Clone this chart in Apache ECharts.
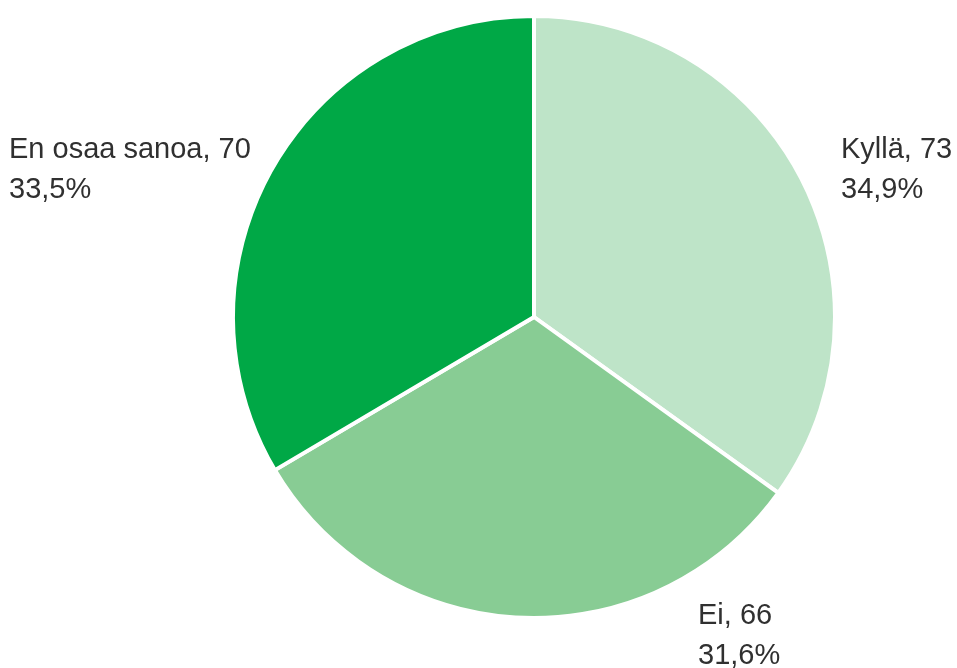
<!DOCTYPE html>
<html>
<head>
<meta charset="utf-8">
<script src="https://cdn.jsdelivr.net/npm/echarts@6/dist/echarts.min.js"></script>
<style>
  html, body { margin: 0; padding: 0; background: #ffffff; }
  #chart { width: 957px; height: 668px; }
</style>
</head>
<body>
<div id="chart"></div>
<script>
// Answer categories and respondent counts
const categories = ['Kyllä', 'Ei', 'En osaa sanoa'];
const counts = [73, 66, 70];
const sliceColors = ['#bee4c8', '#88cc94', '#00a846'];

// Where each label block sits (left edge, top edge), keyed by category
const labelAnchors = {
  'Kyllä': [841, 130],
  'Ei': [698, 596],
  'En osaa sanoa': [9, 130]
};

const chart = echarts.init(document.getElementById('chart'), null, { renderer: 'canvas' });

chart.setOption({
  animation: false,
  backgroundColor: '#ffffff',
  series: [{
    type: 'pie',
    center: [534, 317],
    radius: [0, 301],
    startAngle: 90,
    clockwise: true,
    data: categories.map((name, i) => ({
      name: name,
      value: counts[i],
      itemStyle: { color: sliceColors[i] }
    })),
    itemStyle: { borderColor: '#ffffff', borderWidth: 4 },
    label: {
      show: true,
      position: 'outside',
      fontFamily: 'Liberation Sans, Arial, sans-serif',
      fontSize: 29,
      lineHeight: 40,
      color: '#303030',
      overflow: 'none',
      width: 300,
      formatter: p => p.name + ', ' + p.value + '\n' + p.percent.toFixed(1).replace('.', ',') + '%'
    },
    labelLine: { show: false },
    labelLayout: params => {
      const name = categories[params.dataIndex];
      const a = labelAnchors[name];
      return { x: a[0], y: a[1], align: 'left', verticalAlign: 'top' };
    }
  }]
});
</script>
</body>
</html>
